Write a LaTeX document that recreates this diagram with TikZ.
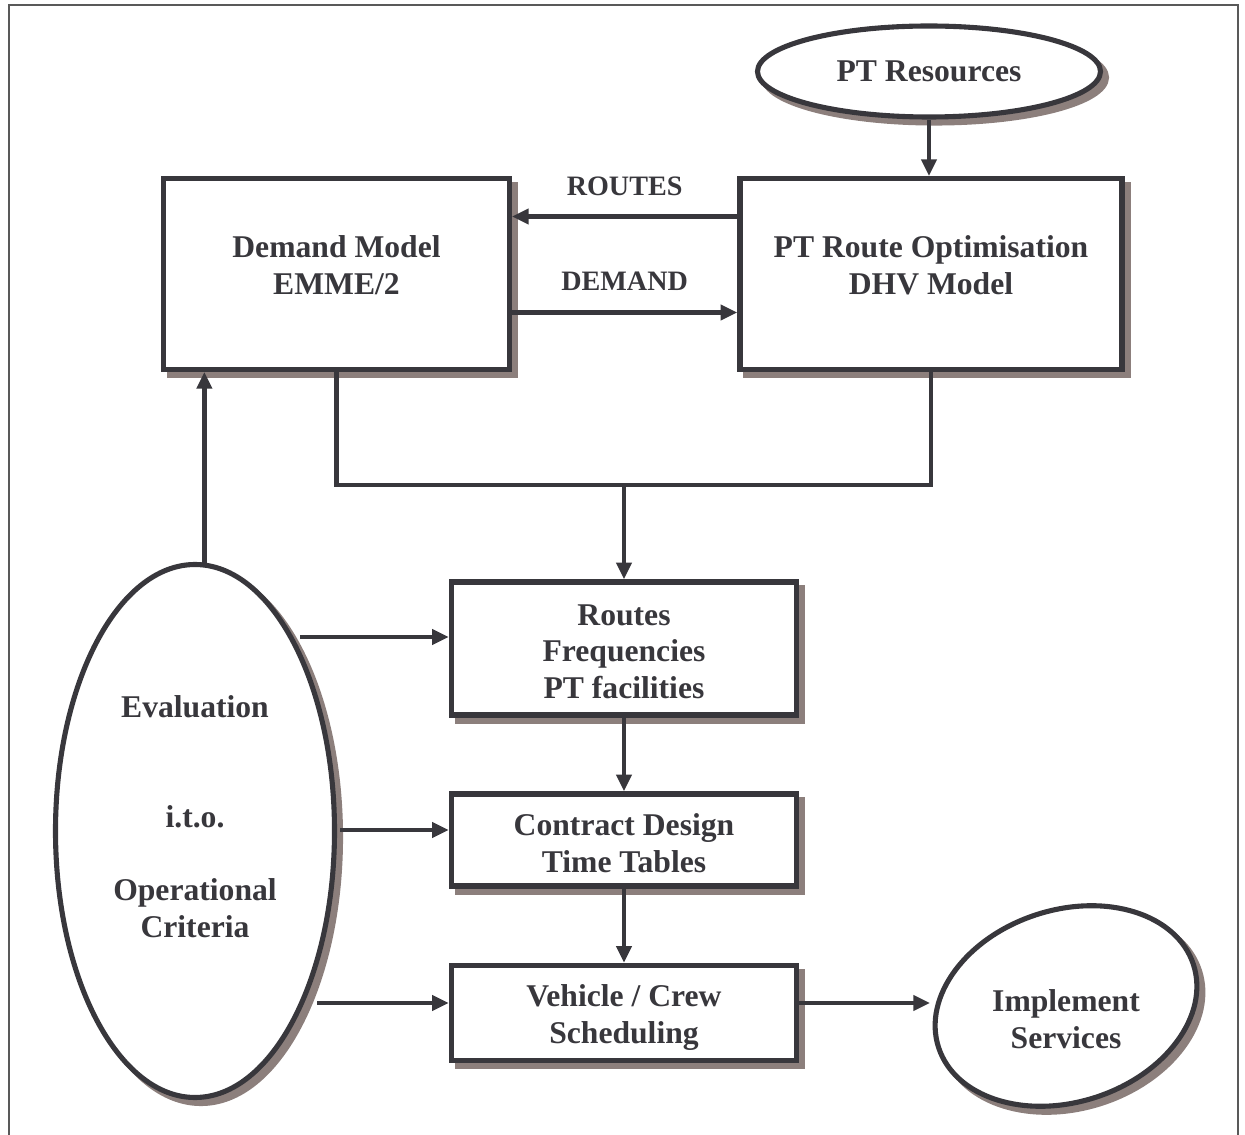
\documentclass[tikz,border=0pt]{standalone}
\usepackage{fontspec}
\setmainfont{Liberation Serif}
\usetikzlibrary{arrows.meta,shapes.geometric,shadows}
\definecolor{ink}{HTML}{38373C}
\definecolor{shadowgray}{HTML}{8C7F7C}
\begin{document}
\begin{tikzpicture}[>={Triangle[length=9.5pt,width=8.5pt]},
  font=\bfseries\fontsize{18}{20.8}\selectfont, text=ink,
  shd/.style={drop shadow={shadow xshift=0.12cm,shadow yshift=-0.12cm,fill=shadowgray,draw=shadowgray,opacity=1}},
  box/.style={rectangle,draw=ink,line width=3.1pt,fill=white,shd,inner sep=0pt},
  oval/.style={ellipse,draw=ink,line width=2.9pt,fill=white,shd,inner sep=0pt},
  txt/.style={align=center,inner sep=0pt},
  lbl/.style={font=\bfseries\fontsize{16}{19}\selectfont},
  link/.style={draw=ink,line width=2.7pt}]
\useasboundingbox (0,0) rectangle (24.9,-22.7);
\draw[black!65,line width=1pt] (0.18,-0.1) rectangle (24.76,-23.5);

\node[oval,minimum width=6.86cm,minimum height=1.82cm] (res) at (18.58,-1.43) {PT Resources};
\node[box,minimum width=6.91cm,minimum height=3.81cm] (dem) at (6.73,-5.48) {};
\node[txt] (demtxt) at (6.73,-5.3) {Demand Model\\EMME/2};
\node[box,minimum width=7.64cm,minimum height=3.81cm] (opt) at (18.62,-5.48) {};
\node[txt] (opttxt) at (18.62,-5.3) {PT Route Optimisation\\DHV Model};
\node[box,minimum width=6.9cm,minimum height=2.66cm] (plan) at (12.48,-12.97) {};
\node[txt] (plantxt) at (12.48,-13.03) {Routes\\Frequencies\\PT facilities};
\node[box,minimum width=6.9cm,minimum height=1.84cm] (con) at (12.48,-16.8) {};
\node[txt] (contxt) at (12.48,-16.86) {Contract Design\\Time Tables};
\node[box,minimum width=6.9cm,minimum height=1.9cm] (veh) at (12.48,-20.26) {};
\node[txt] (vehtxt) at (12.48,-20.35) {Vehicle / Crew\\Scheduling};
\node[oval,minimum width=5.58cm,minimum height=10.66cm] (eval) at (3.9,-16.62) {};
\node[txt] (evaltxt) at (3.9,-16.33) {Evaluation\\[42pt]i.t.o.\\[20.6pt]Operational\\Criteria};
\node[oval,rotate=18,minimum width=5.36cm,minimum height=3.84cm] (impl) at (21.32,-20.12) {};
\node[txt] (impltxt) at (21.32,-20.38) {Implement\\Services};

\draw[link,->] (res.south) -- (res.south |- opt.north);
\draw[link,->] ([yshift=1.15cm]opt.west) -- ([yshift=1.15cm]dem.east)
  node[midway,lbl,yshift=0.61cm] (rlbl) {ROUTES};
\draw[link,->] ([yshift=-0.77cm]dem.east) -- ([yshift=-0.77cm]opt.west)
  node[midway,lbl,yshift=0.63cm] (dlbl) {DEMAND};
\coordinate (join) at (12.48,-9.7);
\draw[link] (dem.south) |- (join) -| (opt.south);
\draw[link,->] (join) -- (plan.north);
\draw[link,->] (plan) -- (con); \draw[link,->] (con) -- (veh);
\draw[link,->] (eval.88) -- (eval.88 |- dem.south);
\coordinate (e1) at (6.0,-12.74); \coordinate (e2) at (6.8,-16.6); \coordinate (e3) at (6.34,-20.06);
\draw[link,->] (e1) -- (e1 -| plan.west);
\draw[link,->] (e2) -- (e2 -| con.west);
\draw[link,->] (e3) -- (e3 -| veh.west);
\coordinate (i1) at (18.6,-20.06);
\draw[link,->] (veh.east |- i1) -- (i1);
\end{tikzpicture}
\end{document}
